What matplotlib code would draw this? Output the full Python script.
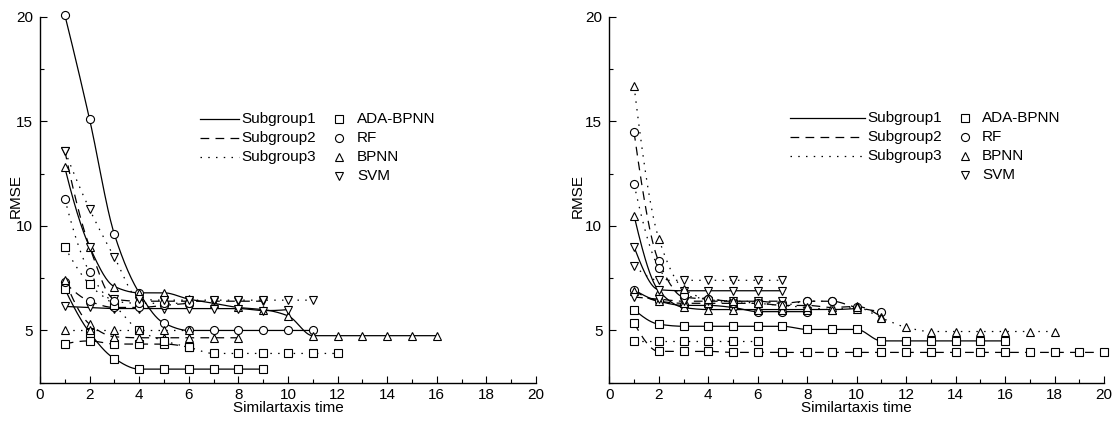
import numpy as np
import matplotlib
matplotlib.use("Agg")
import matplotlib.pyplot as plt
from matplotlib.lines import Line2D
from matplotlib.ticker import MultipleLocator

plt.rcParams['font.family'] = ['Liberation Sans', 'DejaVu Sans']
plt.rcParams['font.size'] = 11

# ---------------- data (x = 1, 2, 3, ... for each series) ----------------
methods = ["ADA-BPNN", "RF", "BPNN", "SVM"]
groups = ["Subgroup1", "Subgroup2", "Subgroup3"]

# left panel
L_s1_ada = [7.0, 4.9, 3.65, 3.15, 3.15, 3.15, 3.15, 3.15, 3.15]
L_s1_rf = [20.1, 15.1, 9.6, 6.8, 5.35, 5.0, 5.0, 5.0, 5.0, 5.0, 5.0]
L_s1_bpnn = [12.8, 9.0, 7.1, 6.8, 6.8, 6.5, 6.3, 6.1, 6.0, 5.7, 4.75, 4.75, 4.75, 4.75, 4.75, 4.75]
L_s1_svm = [6.15, 6.1, 6.05, 6.05, 6.05, 6.05, 6.05, 6.05, 5.95, 6.0]
L_s2_ada = [4.35, 4.5, 4.35, 4.35, 4.35, 4.2]
L_s2_rf = [7.3, 6.4, 6.1, 6.1, 6.2, 6.3]
L_s2_bpnn = [7.4, 5.3, 4.7, 4.65, 4.65, 4.65, 4.65, 4.65]
L_s2_svm = [13.6, 9.0, 6.5, 6.4, 6.4, 6.4, 6.4, 6.4, 6.4]
L_s3_ada = [9.0, 7.2, 6.2, 5.0, 4.5, 4.2, 3.9, 3.9, 3.9, 3.9, 3.9, 3.9]
L_s3_rf = [11.3, 7.8, 6.4, 6.3, 6.3, 6.3]
L_s3_bpnn = [5.0, 5.0, 5.0, 5.0, 5.0, 5.0]
L_s3_svm = [13.6, 10.8, 8.5, 6.5, 6.45, 6.45, 6.45, 6.45, 6.45, 6.45, 6.45]

# right panel
R_s1_ada = [6.0, 5.3, 5.2, 5.2, 5.2, 5.2, 5.2, 5.05, 5.05, 5.05, 4.5, 4.5, 4.5, 4.5, 4.5, 4.5]
R_s1_rf = [6.95, 6.4, 6.2, 6.2, 6.1, 5.9, 5.9, 5.9]
R_s1_bpnn = [10.5, 6.9, 6.1, 6.0, 6.0, 6.0, 6.0, 6.0, 6.0, 6.05]
R_s1_svm = [9.0, 6.95, 6.9, 6.9, 6.9, 6.9, 6.9]
R_s2_ada = [5.35, 4.0, 4.0, 4.0, 3.95, 3.95, 3.95, 3.95, 3.95, 3.95,
            3.95, 3.95, 3.95, 3.95, 3.95, 3.95, 3.95, 3.95, 3.95, 3.95]
R_s2_rf = [14.5, 8.3, 6.6, 6.5, 6.4, 6.4, 6.3, 6.4, 6.4, 6.1, 5.9]
R_s2_bpnn = [6.9, 6.4, 6.3, 6.3, 6.3, 6.3, 6.2, 6.2, 6.1, 6.15, 5.65]
R_s2_svm = [6.6, 6.5, 6.4, 6.4, 6.4, 6.4, 6.4]
R_s3_ada = [4.5, 4.5, 4.5, 4.5, 4.5, 4.5]
R_s3_rf = [12.0, 8.0, 6.7, 6.5, 6.3, 6.3, 6.2, 6.4, 6.4]
R_s3_bpnn = [16.7, 9.4, 7.0, 6.5, 6.4, 6.3, 6.2, 6.1, 6.0, 6.1, 5.6, 5.15,
             4.95, 4.95, 4.95, 4.95, 4.95, 4.95]
R_s3_svm = [8.1, 7.4, 7.4, 7.4, 7.4, 7.4, 7.4]

left_series = [[L_s1_ada, L_s1_rf, L_s1_bpnn, L_s1_svm],
               [L_s2_ada, L_s2_rf, L_s2_bpnn, L_s2_svm],
               [L_s3_ada, L_s3_rf, L_s3_bpnn, L_s3_svm]]
right_series = [[R_s1_ada, R_s1_rf, R_s1_bpnn, R_s1_svm],
                [R_s2_ada, R_s2_rf, R_s2_bpnn, R_s2_svm],
                [R_s3_ada, R_s3_rf, R_s3_bpnn, R_s3_svm]]

# ---------------- styles ----------------
LW = 0.9
group_ls = ['-', (0, (7, 5)), (0, (1.2, 5))]
method_mk = ['s', 'o', '^', 'v']
method_ms = [5.4, 5.8, 6.4, 6.4]


def pchip(x, y, n=300):
    x = np.asarray(x, float)
    y = np.asarray(y, float)
    h = np.diff(x)
    d = np.diff(y) / h
    m = np.zeros_like(y)
    if len(x) == 2:
        m[:] = d[0]
    else:
        for k in range(1, len(x) - 1):
            if d[k - 1] * d[k] <= 0:
                m[k] = 0.0
            else:
                w1 = 2 * h[k] + h[k - 1]
                w2 = h[k] + 2 * h[k - 1]
                m[k] = (w1 + w2) / (w1 / d[k - 1] + w2 / d[k])

        def endslope(h0, h1, d0, d1):
            s = ((2 * h0 + h1) * d0 - h0 * d1) / (h0 + h1)
            if np.sign(s) != np.sign(d0):
                s = 0.0
            elif np.sign(d0) != np.sign(d1) and abs(s) > abs(3 * d0):
                s = 3 * d0
            return s
        m[0] = endslope(h[0], h[1], d[0], d[1])
        m[-1] = endslope(h[-1], h[-2], d[-1], d[-2])
    xs = np.linspace(x[0], x[-1], n)
    idx = np.clip(np.searchsorted(x, xs) - 1, 0, len(x) - 2)
    t = (xs - x[idx]) / h[idx]
    h00 = 2 * t**3 - 3 * t**2 + 1
    h10 = t**3 - 2 * t**2 + t
    h01 = -2 * t**3 + 3 * t**2
    h11 = t**3 - t**2
    ys = h00 * y[idx] + h10 * h[idx] * m[idx] + h01 * y[idx + 1] + h11 * h[idx] * m[idx + 1]
    return xs, ys


W, H = 1115, 423
fig = plt.figure(figsize=(W / 100, H / 100), dpi=100)


def fx(px):
    return px / W


def fy(py):
    return 1 - py / H


def make_axes(left_px, right_px, top_px, bottom_px):
    ax = fig.add_axes([fx(left_px), fy(bottom_px), fx(right_px - left_px), (bottom_px - top_px) / H])
    ax.set_xlim(0, 20)
    ax.set_ylim(2.5, 20)
    ax.spines['top'].set_visible(False)
    ax.spines['right'].set_visible(False)
    for s in ('left', 'bottom'):
        ax.spines[s].set_linewidth(1.0)
    ax.xaxis.set_major_locator(MultipleLocator(2))
    ax.xaxis.set_minor_locator(MultipleLocator(1))
    ax.yaxis.set_major_locator(MultipleLocator(5))
    ax.yaxis.set_minor_locator(MultipleLocator(2.5))
    ax.tick_params(which='both', direction='in', width=0.8, labelsize=11)
    ax.tick_params(which='major', length=5)
    ax.tick_params(which='minor', length=3)
    ax.tick_params(axis='x', which='both', pad=4)
    ax.tick_params(axis='y', which='both', pad=5)
    ax.set_yticks([5, 10, 15, 20])
    ax.set_xlabel("Similartaxis time", labelpad=-1)
    ax.set_ylabel("RMSE")
    return ax


def draw(ax, series):
    for g, row in enumerate(series):
        for mi, vals in enumerate(row):
            xv = np.arange(1, len(vals) + 1)
            xs, ys = pchip(xv, vals)
            ax.plot(xs, ys, color='black', lw=LW, linestyle=group_ls[g], zorder=2)
            ax.plot(xv, vals, linestyle='none', marker=method_mk[mi], ms=method_ms[mi],
                    mfc='white', mec='black', mew=0.8, zorder=3, clip_on=False)


def legend(line_x0, line_x1, text_x, mk_x, mtext_x, rows):
    for g in range(3):
        py = rows[g]
        fig.add_artist(Line2D([fx(line_x0), fx(line_x1)], [fy(py), fy(py)], color='black',
                              lw=LW, linestyle=group_ls[g], transform=fig.transFigure))
        fig.text(fx(text_x), fy(py), groups[g], ha='left', va='center', fontsize=11)
    for mi in range(4):
        py = rows[mi]
        fig.add_artist(Line2D([fx(mk_x)], [fy(py)], linestyle='none', marker=method_mk[mi],
                              ms=method_ms[mi], mfc='white', mec='black', mew=0.8,
                              transform=fig.transFigure))
        fig.text(fx(mtext_x), fy(py), methods[mi], ha='left', va='center', fontsize=11)


axL = make_axes(40, 536, 17, 382.7)
draw(axL, left_series)
axL.yaxis.set_label_coords(-0.034, 0.51)

axR = make_axes(609.3, 1104, 17, 382.7)
draw(axR, right_series)
axR.yaxis.set_label_coords(-0.049, 0.51)

legend(200, 239, 241, 339, 357, [119, 138, 157, 176])
legend(790, 865, 867, 965, 982, [118, 137, 156, 175])

fig.savefig("out.png", dpi=100)
